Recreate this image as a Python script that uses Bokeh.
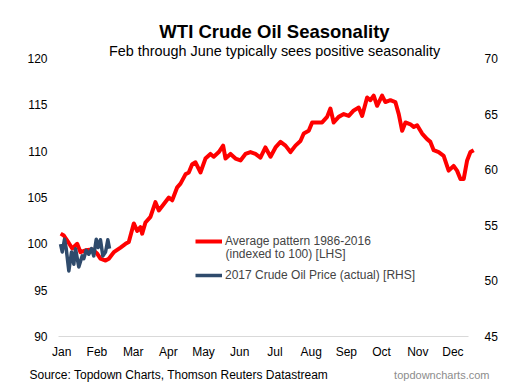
import numpy as np
from bokeh.plotting import figure
from bokeh.models import Range1d, LinearAxis, FixedTicker, Label, Legend, LegendItem
from bokeh.embed import file_html
from bokeh.resources import INLINE

# Average seasonal pattern 1986-2016, indexed to 100 (LHS); x = day of year
avg_day = [1, 3.8, 7.1, 11.2, 15.6, 18.5, 22.9, 28.8, 33.2, 36.1, 40.6, 43.5, 47.9, 53.8,
           58.2, 61.1, 65.5, 68.5, 71.4, 72.9, 75.8, 80.2, 84.6, 87.6, 92.0, 96.4, 99.4,
           103.8, 106.7, 111.1, 114.0, 117.0, 119.9, 124.3, 128.7, 133.1, 136.0, 140.5,
           144.3, 146.4, 150.8, 155.2, 159.6, 164.0, 168.4, 172.8, 177.2, 181.6, 186.1,
           190.5, 194.9, 199.3, 203.7, 208.1, 212.5, 215.4, 219.8, 222.8, 227.2, 231.6,
           236.0, 238.9, 241.8, 246.2, 250.7, 255.1, 259.5, 263.9, 266.9, 271.3, 274.2,
           277.1, 280.1, 284.5, 287.4, 291.8, 296.2, 299.2, 302.2, 305.1, 309.5, 312.4,
           315.4, 319.8, 324.2, 327.1, 330.0, 334.4, 338.8, 343.2, 347.6, 350.6, 353.6,
           356.5, 359.5, 362.4, 365.3]
avg_value = [101.1, 100.9, 100.3, 99.5, 100.0, 99.1, 99.3, 99.4, 98.95, 98.4, 98.2, 98.4,
             99.1, 99.6, 100.0, 100.2, 102.2, 101.4, 101.8, 101.1, 102.3, 102.9, 104.5,
             103.6, 104.3, 105.0, 104.7, 106.1, 106.5, 107.5, 107.7, 108.6, 108.8, 107.7,
             109.2, 109.7, 109.4, 109.9, 110.6, 109.2, 109.7, 109.2, 109.0, 109.7, 109.9,
             109.7, 109.3, 110.4, 109.4, 110.4, 111.0, 110.6, 109.9, 110.6, 111.1, 111.9,
             112.2, 113.1, 113.1, 113.1, 113.7, 114.6, 113.1, 113.7, 114.0, 113.8, 114.4,
             114.7, 113.8, 115.8, 115.5, 116.0, 114.9, 116.0, 115.3, 115.5, 115.3, 114.0,
             112.2, 113.1, 112.9, 112.6, 112.8, 111.9, 111.3, 111.0, 110.1, 109.9, 109.5,
             107.9, 108.4, 107.9, 107.0, 107.0, 109.0, 109.9, 110.1]

# 2017 WTI crude oil price, actual (RHS)
actual_day = [0.9, 2.4, 4.4, 5.9, 8.2, 10.6, 12.6, 14.1, 17.0, 20.0, 21.4, 23.5, 25.8,
              28.2, 30.2, 32.4, 34.1, 36.1, 38.2, 40.6, 42.6, 44.1]
actual_price = [53.3, 52.6, 53.75, 52.9, 50.9, 52.6, 51.5, 52.9, 51.25, 52.25, 52.0, 52.75,
                52.4, 52.9, 52.25, 53.75, 53.0, 53.7, 52.25, 52.6, 53.7, 52.9]

months = ["Jan", "Feb", "Mar", "Apr", "May", "Jun", "Jul", "Aug", "Sep", "Oct", "Nov", "Dec"]
lhs_ticks = [90, 95, 100, 105, 110, 115, 120]
rhs_ticks = [45, 50, 55, 60, 65, 70]

FONT = "Liberation Sans"

# ---- layout (figure pixels); the frame fills the whole figure, axes sit at fixed spots
W, H = 522, 382
PLOT_L, PLOT_R = 58, 474          # plotting area left/right
PLOT_T, PLOT_B = 58, 336          # plotting area top/bottom
AXIS_END = 468                    # where the x axis line stops
X0, X1 = -0.9, 366.0              # days spanned by the plotting area
Y0, Y1 = 90.0, 120.0              # LHS span
R0, R1 = 45.0, 70.0               # RHS span

dx = (X1 - X0) / (PLOT_R - PLOT_L)
dy = (Y1 - Y0) / (PLOT_B - PLOT_T)
dr = (R1 - R0) / (PLOT_B - PLOT_T)
x_range = Range1d(X0 - PLOT_L * dx, X1 + (W - PLOT_R) * dx)
y_range = Range1d(Y0 - (H - PLOT_B) * dy, Y1 + PLOT_T * dy)
r_range = Range1d(R0 - (H - PLOT_B) * dr, R1 + PLOT_T * dr)


def sy(py):
    """pixels from top -> frame screen y (from bottom)"""
    return H - py


def sx(px):
    return px


p = figure(width=W, height=H, output_backend="svg", toolbar_location=None,
           x_range=x_range, y_range=y_range,
           min_border_left=0, min_border_right=0, min_border_top=0, min_border_bottom=0)
p.outline_line_color = None
p.xgrid.visible = False
p.ygrid.visible = False
p.background_fill_color = "white"
p.border_fill_color = "white"
p.extra_y_ranges = {"rhs": r_range}

month_ticks = [int(t) for t in np.linspace(2, 347, 12).round()]
xa = p.xaxis[0]
xa.fixed_location = Y0
xa.bounds = (X0, X0 + (AXIS_END - PLOT_L) * dx)
xa.ticker = FixedTicker(ticks=month_ticks)
xa.major_label_overrides = {t: m for t, m in zip(month_ticks, months)}
xa.axis_line_color = "#D9D9D9"
xa.axis_line_width = 1.2
xa.major_tick_line_color = None
xa.minor_tick_line_color = None
xa.major_tick_out = 0
xa.major_tick_in = 0
xa.major_label_standoff = 8
xa.major_label_text_font = FONT
xa.major_label_text_font_size = "12px"
xa.major_label_text_color = "black"

ya = p.yaxis[0]
ya.fixed_location = X0
ya.bounds = (Y0, Y1)
ya.ticker = FixedTicker(ticks=lhs_ticks)
ya.axis_line_color = None
ya.major_tick_line_color = None
ya.minor_tick_line_color = None
ya.major_tick_out = 0
ya.major_tick_in = 0
ya.major_label_standoff = 11
ya.major_label_text_font = FONT
ya.major_label_text_font_size = "12px"
ya.major_label_text_color = "black"

ra = LinearAxis(y_range_name="rhs", ticker=FixedTicker(ticks=rhs_ticks))
ra.fixed_location = X1
ra.bounds = (R0, R1)
ra.axis_line_color = None
ra.major_tick_line_color = None
ra.minor_tick_line_color = None
ra.major_tick_out = 0
ra.major_tick_in = 0
ra.major_label_standoff = 10
ra.major_label_text_font = FONT
ra.major_label_text_font_size = "12px"
ra.major_label_text_color = "black"
p.add_layout(ra, "right")

r1 = p.line(avg_day, avg_value, line_color="#FF0000", line_width=4, line_join="round")
r2 = p.line(actual_day, actual_price, y_range_name="rhs", line_color="#2F4B6C",
            line_width=3.5, line_join="round")

legend = Legend(items=[LegendItem(label="Average pattern 1986-2016", renderers=[r1]),
                       LegendItem(label="2017 Crude Oil Price (actual) [RHS]", renderers=[r2])],
                location=(sx(195), sy(282)), orientation="vertical",
                label_text_font=FONT, label_text_font_size="12px",
                glyph_width=27, glyph_height=14, label_height=14, label_standoff=3,
                spacing=20, padding=0, margin=0,
                border_line_alpha=0, background_fill_alpha=0)
p.add_layout(legend, "center")

p.add_layout(Label(x=sx(225), y=sy(253), x_units="screen", y_units="screen",
                   text="(indexed to 100) [LHS]", text_font=FONT, text_font_size="12px",
                   text_baseline="middle", text_align="left"))

p.add_layout(Label(x=sx(274), y=sy(30.7), x_units="screen", y_units="screen",
                   text="WTI Crude Oil Seasonality", text_font=FONT, text_font_size="18.5px",
                   text_font_style="bold", text_baseline="alphabetic", text_align="center",
                   text_color="black"))
p.add_layout(Label(x=sx(274), y=sy(50), x_units="screen", y_units="screen",
                   text="Feb through June typically sees positive seasonality",
                   text_font=FONT, text_font_size="14.4px", text_color="black",
                   text_baseline="alphabetic", text_align="center"))
p.add_layout(Label(x=sx(29), y=sy(374), x_units="screen", y_units="screen",
                   text="Source: Topdown Charts, Thomson Reuters Datastream",
                   text_font=FONT, text_font_size="12px", text_color="black",
                   text_baseline="alphabetic", text_align="left"))
p.add_layout(Label(x=sx(489), y=sy(374), x_units="screen", y_units="screen",
                   text="topdowncharts.com", text_font=FONT, text_font_size="11px",
                   text_color="#8C8C8C", text_baseline="alphabetic", text_align="right"))

open("out.html", "w").write(file_html(p, INLINE))
